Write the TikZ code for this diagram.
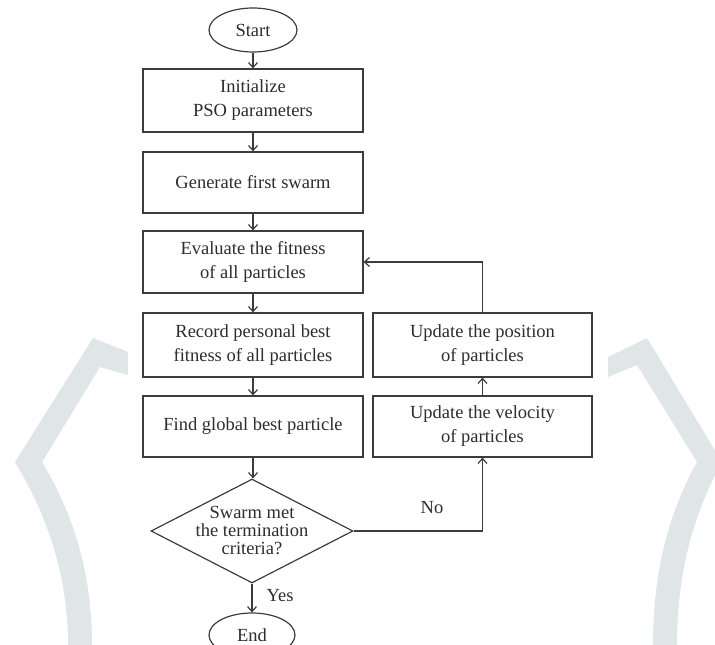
\documentclass[tikz,border=0pt]{standalone}
\usepackage{fontspec}
\setmainfont{Liberation Serif}
\usetikzlibrary{shapes.geometric,arrows.meta}
\definecolor{wm}{RGB}{224,229,232}
\definecolor{ln}{RGB}{60,60,60}
\definecolor{tx}{RGB}{45,45,45}
\begin{document}
\begin{tikzpicture}[x=1pt,y=-1pt,
  box/.style={draw=ln, line width=1.2pt, minimum width=220pt, minimum height=62pt, align=center, text=tx, inner sep=0pt, font=\fontsize{18.5}{24}\selectfont},
  term/.style={ellipse, draw=ln, line width=1.2pt, minimum width=88pt, minimum height=44pt, inner sep=0pt, text=tx, font=\fontsize{18.5}{24}\selectfont},
  dec/.style={diamond, draw=ln, line width=1.2pt, minimum width=202pt, minimum height=104pt, inner sep=0pt},
  dectext/.style={align=center, text=tx, font=\fontsize{18.5}{18}\selectfont},
  arr/.style={draw=ln, line width=1.2pt, -{Straight Barb[length=5pt,width=9pt]}},
  lbl/.style={text=tx, font=\fontsize{18.5}{24}\selectfont}]
\useasboundingbox (0,0) rectangle (715,645);
\clip (0,0) rectangle (715,645);
% watermark
\fill[wm] (128,352) -- (93,338) -- (15,462) .. controls (50,520) and (68,580) .. (68,645)
  -- (92,645) .. controls (92,580) and (77,520) .. (42,462) -- (100,367) -- (128,375) -- cycle;
\fill[wm] (608,357) -- (647,338) -- (722,462) .. controls (690,520) and (677,580) .. (677,645)
  -- (653,645) .. controls (653,580) and (665,520) .. (697,462) -- (637,365) -- (608,377) -- cycle;
% nodes
\node[term] (start) at (253,30) {Start};
\node[box, minimum height=63pt] (init) at (253,100.5) {Initialize\\PSO parameters};
\node[box, minimum height=61pt] (gen) at (253,182.5) {Generate first swarm};
\node[box] (eval) at (253,262) {Evaluate the fitness\\of all particles};
\node[box, minimum height=64pt] (rec) at (253,345) {Record personal best\\fitness of all particles};
\node[box, minimum height=61pt] (find) at (253,426.5) {Find global best particle};
\node[box, minimum width=219pt, minimum height=64pt] (pos) at (482.5,345) {Update the position\\of particles};
\node[box, minimum width=219pt, minimum height=61pt] (vel) at (482.5,426.5) {Update the velocity\\of particles};
\node[dec] (crit) at (252,531) {};
\node[dectext] (crittext) at (crit) {Swarm met\\the termination\\criteria?};
\node[term, minimum width=86pt] (end) at (252,635) {End};
\node[lbl] (no) at (432,508) {No};
\node[lbl, anchor=west] (yes) at (263,596) {Yes};
% connectors
\draw[arr] (start) -- (init);
\draw[arr] (init) -- (gen);
\draw[arr] (gen) -- (eval);
\draw[arr] (eval) -- (rec);
\draw[arr] (rec) -- (find);
\draw[arr] (find.south) -- (find.south |- crit.north);
\draw[arr] (crit.south) -- (end.north);
\draw[arr] (crit.east) -| (vel.south);
\draw[arr] (vel) -- (pos);
\draw[arr] (pos.north) |- (eval.east);
\end{tikzpicture}
\end{document}
